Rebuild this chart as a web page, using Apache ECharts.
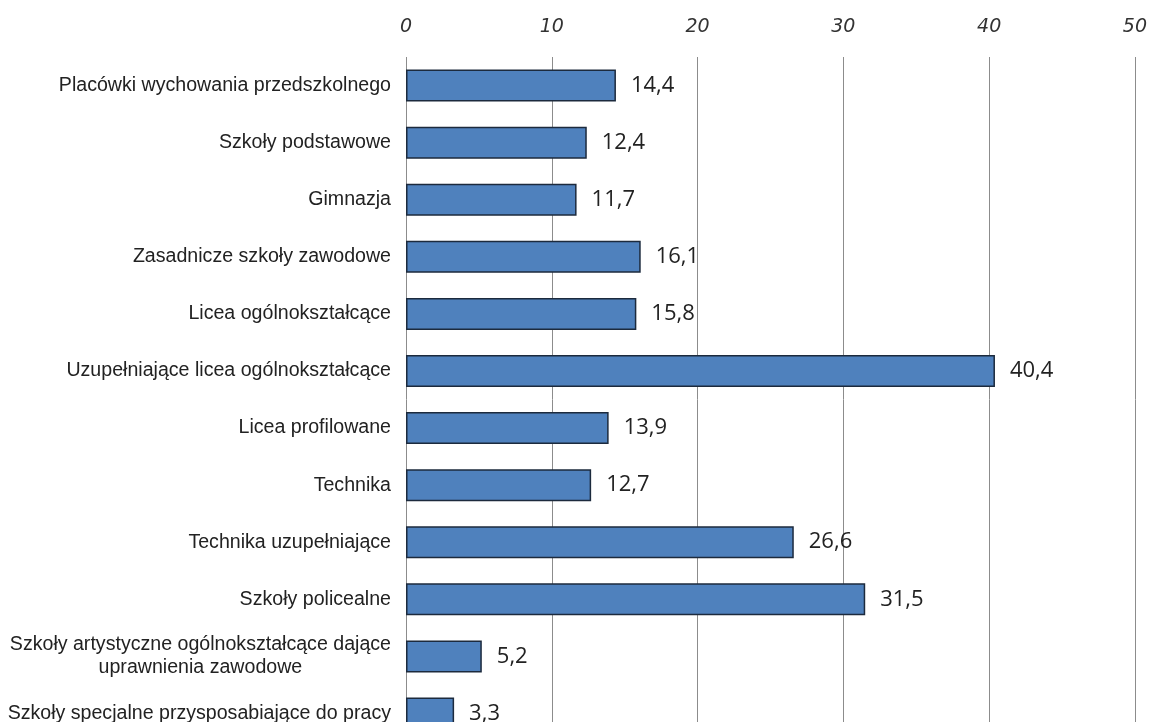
<!DOCTYPE html>
<html><head><meta charset="utf-8">
<script src="https://cdn.jsdelivr.net/npm/echarts@6/dist/echarts.min.js"></script>
<style>html,body{margin:0;padding:0;background:#fff;overflow:hidden}#c{width:1150px;height:760px}</style>
</head><body><div id="c"></div>
<script>
const categories = [
  "Placówki wychowania przedszkolnego",
  "Szkoły podstawowe",
  "Gimnazja",
  "Zasadnicze szkoły zawodowe",
  "Licea ogólnokształcące",
  "Uzupełniające licea ogólnokształcące",
  "Licea profilowane",
  "Technika",
  "Technika uzupełniające",
  "Szkoły policealne",
  "Szkoły artystyczne ogólnokształcące dające\nuprawnienia zawodowe",
  "Szkoły specjalne przysposabiające do pracy"
];
const values = [14.4, 12.4, 11.7, 16.1, 15.8, 40.4, 13.9, 12.7, 26.6, 31.5, 5.2, 3.3];
const xTicks = [0, 10, 20, 30, 40, 50];

const FONT = 'Liberation Sans, Arial, sans-serif';
const chart = echarts.init(document.getElementById('c'), null, {renderer: 'canvas'});
chart.setOption({
  animation: false,
  grid: {left: 406, top: 57, width: 729, height: 685},
  xAxis: {
    type: 'value', position: 'top', min: 0, max: 50, interval: 10,
    axisLine: {show: false}, axisTick: {show: false},
    axisLabel: {
      margin: 20, fontStyle: 'italic', fontSize: 19, color: '#333',
      fontFamily: 'DejaVu Sans',
      formatter: v => xTicks.includes(v) ? String(v) : ''
    },
    splitLine: {show: true, lineStyle: {color: '#8c8c8c', width: 1}}
  },
  yAxis: {
    type: 'category', inverse: true, data: categories,
    axisLine: {show: false}, axisTick: {show: false},
    axisLabel: {
      margin: 15, fontSize: 19.6, color: '#222',
      fontFamily: FONT,
      formatter: v => v.split('\n').map(s => '{c|' + s + '}').join('\n'),
      rich: {c: {align: 'center', fontSize: 19.6, color: '#222', lineHeight: 23,
        fontFamily: FONT}}
    }
  },
  series: [{
    type: 'bar', data: values, barWidth: 32,
    itemStyle: {color: '#4F81BD', borderColor: '#1c2a3d', borderWidth: 1.5},
    label: {
      show: true, position: 'right', distance: 15, fontSize: 22, color: '#222',
      fontFamily: 'Open Sans, DejaVu Sans',
      formatter: p => String(p.value).replace('.', ',')
    }
  }]
});
</script></body></html>
